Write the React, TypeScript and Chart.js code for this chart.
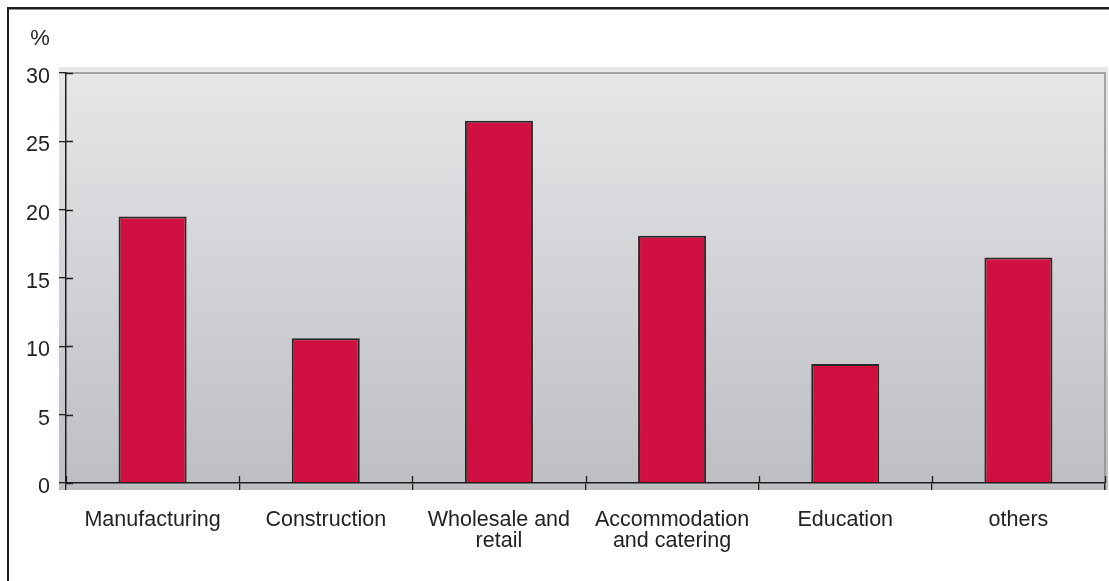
import { useEffect, useRef } from 'react';
import { Chart, registerables } from 'chart.js';

Chart.register(...registerables);

const categories: string[][] = [
  ['Manufacturing'],
  ['Construction'],
  ['Wholesale and', 'retail'],
  ['Accommodation', 'and catering'],
  ['Education'],
  ['others'],
];
const shares = [19.5, 10.6, 26.5, 18.1, 8.7, 16.5];
const yMin = 0;
const yMax = 30;
const yStep = 5;
const yUnit = '%';

const FONT = "'Liberation Sans', Arial, Helvetica, sans-serif";
const TEXT = '#222222';
const AXIS = '#1e1e1e';

const backgroundPlugin = {
  id: 'bgPlugin',
  beforeDraw(chart: any) {
    const { ctx, chartArea: a } = chart;
    ctx.save();
    // page frame (left + top)
    ctx.fillStyle = '#1f1f1f';
    ctx.fillRect(7, 7, 2, 600);
    ctx.fillRect(7, 7, 1200, 2);
    ctx.fillStyle = '#8a8a8a';
    ctx.fillRect(9, 9, 1200, 1);
    // plot background gradient
    const top = a.top - 6;
    const bottom = a.bottom + 7;
    const left = a.left - 7;
    const right = a.right + 3;
    const g = ctx.createLinearGradient(0, top, 0, bottom);
    g.addColorStop(0, '#e6e7e9');
    g.addColorStop(1, '#bdbec2');
    ctx.fillStyle = g;
    ctx.fillRect(left, top, right - left, bottom - top);
    // top and right frame of plot
    ctx.strokeStyle = '#8e8e8e';
    ctx.lineWidth = 1.5;
    ctx.beginPath();
    ctx.moveTo(a.left, a.top);
    ctx.lineTo(a.right, a.top);
    ctx.lineTo(a.right, a.bottom + 7);
    ctx.stroke();
    ctx.restore();
  },
  afterDraw(chart: any) {
    const { ctx, chartArea: a } = chart;
    const xs = chart.scales.x;
    const ys = chart.scales.y;
    ctx.save();
    ctx.strokeStyle = AXIS;
    ctx.lineWidth = 1.3;
    ctx.beginPath();
    ys.ticks.forEach((_t: any, i: number) => {
      const py = Math.round(ys.getPixelForTick(i)) + 0.5;
      ctx.moveTo(a.left, py);
      ctx.lineTo(a.left + 7, py);
    });
    for (let i = 0; i <= categories.length; i++) {
      const px = Math.round(xs.getPixelForValue(i - 0.5)) + 0.5;
      ctx.moveTo(px, a.bottom);
      ctx.lineTo(px, a.bottom - 7);
    }
    ctx.stroke();
    // unit label
    ctx.fillStyle = TEXT;
    ctx.font = `22px ${FONT}`;
    ctx.textAlign = 'center';
    ctx.textBaseline = 'alphabetic';
    ctx.fillText(yUnit, 40, 45);
    ctx.restore();
  },
};

export default function App() {
  const canvasRef = useRef<HTMLCanvasElement | null>(null);

  useEffect(() => {
    const canvas = canvasRef.current;
    if (!canvas) return;
    const chart = new Chart(canvas, {
      type: 'bar',
      data: {
        labels: categories,
        datasets: [
          {
            data: shares,
            backgroundColor: '#d01040',
            borderColor: '#2a2a2a',
            borderWidth: 2,
            categoryPercentage: 1,
            barPercentage: 0.393,
          },
        ],
      },
      options: {
        animation: false,
        responsive: false,
        maintainAspectRatio: false,
        devicePixelRatio: 1,
        layout: { padding: { left: 0, top: 73, right: 4, bottom: 0 } },
        plugins: {
          legend: { display: false },
          tooltip: { enabled: false },
          title: { display: false },
        },
        scales: {
          x: {
            offset: true,
            grid: {
              display: true,
              offset: true,
              drawOnChartArea: false,
              drawTicks: true,
              tickLength: 7,
              color: AXIS,
              lineWidth: 1.3,
            },
            border: { display: true, color: AXIS, width: 1.5 },
            ticks: {
              autoSkip: false,
              maxRotation: 0,
              minRotation: 0,
              padding: 19,
              color: TEXT,
              font: { family: FONT, size: 21.5, lineHeight: 1.0 },
            },
            afterFit(scale: any) {
              scale.height = 98;
            },
          },
          y: {
            min: yMin,
            max: yMax,
            grid: {
              display: true,
              drawOnChartArea: false,
              drawTicks: true,
              tickLength: 7,
              color: AXIS,
              lineWidth: 1.3,
            },
            border: { display: true, color: AXIS, width: 1.5 },
            ticks: {
              stepSize: yStep,
              padding: 9,
              labelOffset: 4,
              color: TEXT,
              font: { family: FONT, size: 21.5 },
            },
            afterFit(scale: any) {
              scale.width = 66;
            },
          },
        },
      },
      plugins: [backgroundPlugin],
    });
    return () => chart.destroy();
  }, []);

  return (
    <div style={{ position: 'absolute', left: 0, top: 0, width: 1109, height: 581, background: '#fff' }}>
      <canvas ref={canvasRef} width={1109} height={581} style={{ display: 'block', width: 1109, height: 581 }} />
    </div>
  );
}
